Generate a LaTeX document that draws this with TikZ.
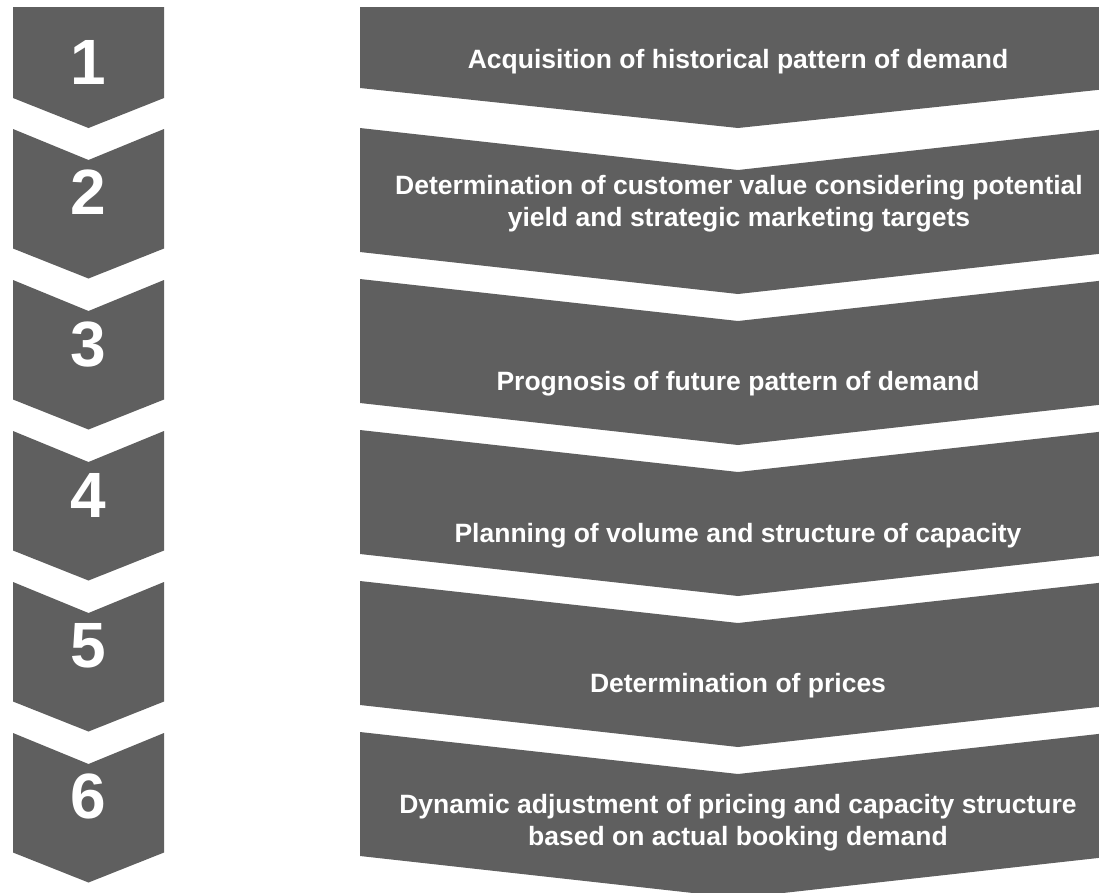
\documentclass[tikz,border=0pt]{standalone}
\usepackage{fontspec}
\setmainfont{Liberation Sans}
\definecolor{boxgray}{RGB}{95,95,95}
\begin{document}
\begin{tikzpicture}[x=1pt,y=-1pt,
  chev/.style={fill=boxgray,draw=none},
  lbl/.style={text=white,font=\fontsize{26.5}{32}\selectfont\bfseries,align=center,inner sep=0pt},
  num/.style={text=white,font=\fontsize{64}{64}\selectfont\bfseries,inner sep=0pt,anchor=base}]
\useasboundingbox (0,0) rectangle (1099,892);
\clip (0,0) rectangle (1099,892);
% left chevrons
\fill[chev] (13,7) -- (164,7) -- (164,98) -- (88.5,128) -- (13,98) -- cycle;
\foreach \k in {2,...,6}{
  \pgfmathsetmacro\o{151*(\k-1)}
  \fill[chev] (13,\o-22) -- (88.5,\o+9) -- (164,\o-22) -- (164,\o+97.5) -- (88.5,\o+127.5) -- (13,\o+97.5) -- cycle;
}
% right chevrons
\fill[chev] (360,7) -- (1116,7) -- (1116,88) -- (738,128) -- (360,88) -- cycle;
\foreach \k in {2,...,6}{
  \pgfmathsetmacro\o{151*(\k-2)}
  \fill[chev] (360,\o+128) -- (738,\o+170) -- (1116,\o+128) -- (1116,\o+252) -- (738,\o+294) -- (360,\o+252) -- cycle;
}
% numbers
\node[num] (n1) at (88.5,84) {1};
\node[num] (n2) at (88.5,214) {2};
\node[num] (n3) at (88.5,366) {3};
\node[num] (n4) at (88.5,517) {4};
\node[num] (n5) at (88.5,667) {5};
\node[num] (n6) at (88.5,818) {6};
% labels
\node[lbl,anchor=base] (t1) at (738,68) {Acquisition of historical pattern of demand};
\node[lbl] (t2) at (739,204) {Determination of customer value considering potential\\yield and strategic marketing targets};
\node[lbl,anchor=base] (t3) at (738,390) {Prognosis of future pattern of demand};
\node[lbl,anchor=base] (t4) at (738,542) {Planning of volume and structure of capacity};
\node[lbl,anchor=base] (t5) at (738,692) {Determination of prices};
\node[lbl] (t6) at (738,823) {Dynamic adjustment of pricing and capacity structure\\based on actual booking demand};
\end{tikzpicture}
\end{document}
